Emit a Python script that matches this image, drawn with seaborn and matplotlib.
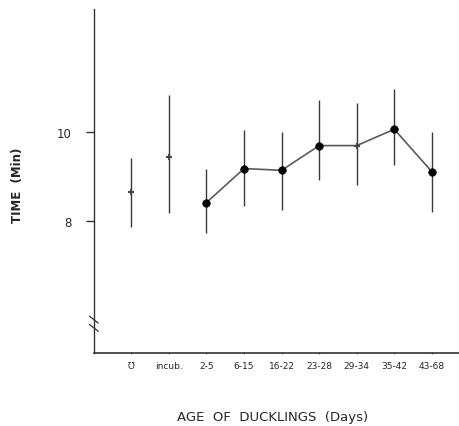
import matplotlib
matplotlib.use('Agg')
import matplotlib.pyplot as plt
import seaborn as sns
import pandas as pd

# values
groups = ['Ʊ', 'incub.', '2-5', '6-15', '16-22', '23-28', '29-34', '35-42', '43-68']
means = [8.64, 9.45, 8.41, 9.18, 9.14, 9.70, 9.70, 10.07, 9.11]
upper = [9.41, 10.84, 9.18, 10.05, 10.00, 10.73, 10.66, 10.98, 10.00]
lower = [7.85, 8.18, 7.73, 8.32, 8.25, 8.91, 8.80, 9.27, 8.20]
# which points are big filled dots (the ducklings series) vs small marks
big_dot = [False, False, True, True, True, True, False, True, True]
connected = [False, False, True, True, True, True, True, True, True]

if __name__ == '__main__':
    sns.set_style('ticks')
    plt.rcParams['font.family'] = ['DejaVu Sans']

    df = pd.DataFrame({'pos': range(len(groups)), 'group': groups, 'mean': means,
                       'upper': upper, 'lower': lower, 'big': big_dot, 'line': connected})

    fig = plt.figure(figsize=(4.6, 4.27), dpi=100)
    ax = fig.add_axes([0.204, 0.171, 0.80, 0.806])

    # error bars
    ax.vlines(df['pos'], df['lower'], df['upper'], color='#3a3a3a', linewidth=1.0, zorder=2)

    # connecting line for the age groups
    line_df = df[df['line']]
    sns.lineplot(data=line_df, x='pos', y='mean', color='#5a5a5a', linewidth=1.2,
                 ax=ax, zorder=3)

    # big filled dots
    sns.scatterplot(data=df[df['big']], x='pos', y='mean', color='black', s=30,
                    edgecolor='black', ax=ax, zorder=4)
    # small marks
    sns.scatterplot(data=df[~df['big']], x='pos', y='mean', color='#444444', marker='P',
                    s=14, linewidth=0, ax=ax, zorder=4)

    ax.set_xlim(-1, 8.8)
    ax.set_ylim(5.0, 12.8)
    ax.set_xticks(df['pos'])
    ax.set_xticklabels(groups, fontsize=6.5)
    ax.set_yticks([8, 10])
    ax.set_yticklabels(['8', '10'], fontsize=8.5)
    ax.tick_params(axis='y', length=6, width=1, pad=10, color='#333333')
    ax.tick_params(axis='x', length=2, width=0.8, pad=5, direction='inout', color='#777777')

    sns.despine(ax=ax)
    ax.spines['left'].set_color('#333333')
    ax.spines['bottom'].set_color('#333333')
    ax.spines['left'].set_linewidth(1.0)
    ax.spines['bottom'].set_linewidth(1.2)

    # axis break mark on the y axis
    for dy in (-0.012, 0.012):
        ax.plot([-0.012, 0.012], [0.085 + dy + 0.01, 0.085 + dy - 0.01],
                transform=ax.transAxes, color='#333333', linewidth=0.9, clip_on=False)

    ax.set_xlabel('AGE  OF  DUCKLINGS  (Days)', fontsize=9.5)
    ax.xaxis.set_label_coords(0.485, -0.165)
    ax.set_ylabel('TIME  (Min)', fontsize=8.5, fontweight='bold')
    ax.yaxis.set_label_coords(-0.19, 0.49)

    plt.savefig('out.png', dpi=100)
